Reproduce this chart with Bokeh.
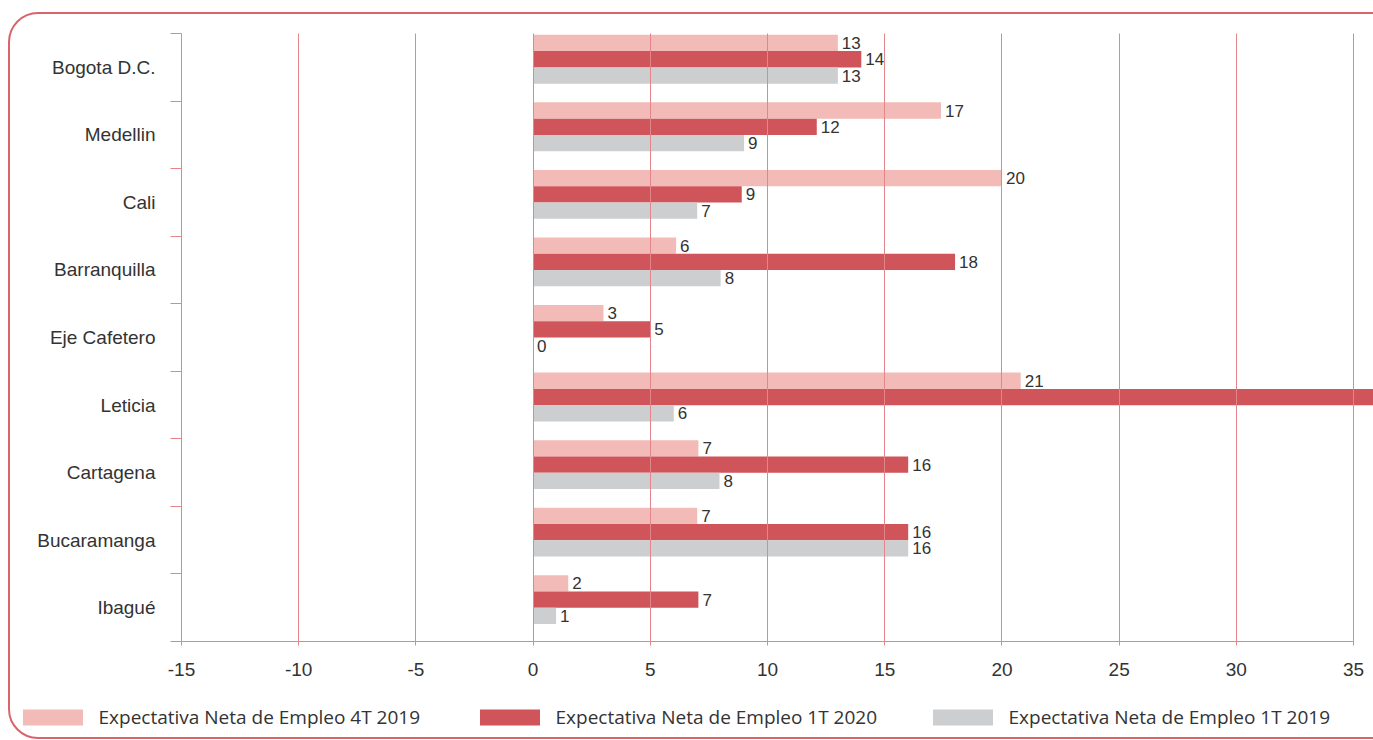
from bokeh.plotting import figure
from bokeh.layouts import column
from bokeh.models import (ColumnDataSource, Range1d, FixedTicker, Legend, LegendItem,
                          InlineStyleSheet)
from bokeh.core.properties import value
from bokeh.embed import file_html
from bokeh.resources import INLINE

# ---- data ----
cities = ["Bogota D.C.", "Medellin", "Cali", "Barranquilla", "Eje Cafetero",
          "Leticia", "Cartagena", "Bucaramanga", "Ibagué"]
series_names = ["Expectativa Neta de Empleo 4T 2019",
                "Expectativa Neta de Empleo 1T 2020",
                "Expectativa Neta de Empleo 1T 2019"]
v_4t2019 = [13.0, 17.4, 20.0, 6.1, 3.0, 20.8, 7.05, 7.0, 1.5]
v_1t2020 = [14.0, 12.1, 8.9, 18.0, 5.0, 38.0, 16.0, 16.0, 7.05]
v_1t2019 = [13.0, 9.0, 7.0, 8.0, 0.0, 6.0, 7.95, 16.0, 0.98]
lab_4t2019 = ["13", "17", "20", "6", "3", "21", "7", "7", "2"]
lab_1t2020 = ["14", "12", "9", "18", "5", "", "16", "16", "7"]  # Leticia label lies off-chart
lab_1t2019 = ["13", "9", "7", "8", "0", "6", "8", "16", "1"]
x_ticks = [-15, -10, -5, 0, 5, 10, 15, 20, 25, 30, 35]

colors = ["#f3bbb7", "#d0555b", "#cdcecf"]
grid_col = "#e3858b"
text_col = "#333333"
label_font = "Liberation Sans"

W = 1373
p = figure(width=W, height=700, output_backend="svg", toolbar_location=None,
           x_range=Range1d(-15, 35.85), y_range=Range1d(9, 0),
           min_border_left=181, min_border_right=0, min_border_top=33,
           min_border_bottom=59)
p.frame_align = False
p.outline_line_color = None
p.background_fill_color = "white"
p.border_fill_color = "white"

bar_h = 0.241
offsets = [0.14, 0.381, 0.622]
all_vals = [v_4t2019, v_1t2020, v_1t2019]
all_labs = [lab_4t2019, lab_1t2020, lab_1t2019]

sources = []
for k in range(3):
    ys = [i + offsets[k] for i in range(len(cities))]
    src = ColumnDataSource(dict(y=ys, right=all_vals[k], lab=all_labs[k]))
    sources.append(src)
    p.hbar(y="y", left=0, right="right", height=bar_h, source=src,
           fill_color=colors[k], line_color=None)
    p.text(x="right", y="y", text="lab", source=src, x_offset=4,
           text_baseline="middle", text_align="left", text_font_size="17px",
           text_font=value(label_font), text_color=text_col)

# grid
p.ygrid.visible = False
p.xgrid.ticker = FixedTicker(ticks=x_ticks)
p.xgrid.grid_line_color = grid_col
p.xgrid.grid_line_width = 1
p.xgrid.level = "overlay"

# x axis
p.xaxis.ticker = FixedTicker(ticks=x_ticks)
p.xaxis.major_label_overrides = {t: str(t) for t in x_ticks}
p.xaxis.bounds = (-15, 35)
p.xaxis.axis_line_color = grid_col
p.xaxis.major_tick_line_color = grid_col
p.xaxis.major_tick_out = 4
p.xaxis.major_tick_in = 0
p.xaxis.minor_tick_line_color = None
p.xaxis.major_label_standoff = 17
p.xaxis.major_label_text_font = label_font
p.xaxis.major_label_text_font_size = "19px"
p.xaxis.major_label_text_color = text_col

# y axis
centers = [i + 0.5 for i in range(len(cities))]
p.yaxis.ticker = FixedTicker(ticks=centers, minor_ticks=list(range(len(cities) + 1)))
p.yaxis.major_label_overrides = {c: n for c, n in zip(centers, cities)}
p.yaxis.axis_line_color = grid_col
p.yaxis.major_tick_line_color = None
p.yaxis.major_tick_out = 0
p.yaxis.major_tick_in = 0
p.yaxis.minor_tick_line_color = grid_col
p.yaxis.minor_tick_out = 11
p.yaxis.minor_tick_in = 0
p.yaxis.major_label_standoff = 15
p.yaxis.major_label_text_font = label_font
p.yaxis.major_label_text_font_size = "19px"
p.yaxis.major_label_text_color = text_col

# legend strip (its bars share the series sources but lie outside its view)
p2 = figure(width=W, height=40, output_backend="svg", toolbar_location=None,
            x_axis_type=None, y_axis_type=None, x_range=Range1d(0, 1),
            y_range=Range1d(100, 101), min_border=0)
p2.frame_align = False
p2.outline_line_color = None
p2.xgrid.visible = False
p2.ygrid.visible = False
leg_x = [14.5, 471.5, 924.5]
for k in range(3):
    r = p2.hbar(y="y", left=0, right="right", height=bar_h, source=sources[k],
                fill_color=colors[k], line_color=None)
    lg = Legend(items=[LegendItem(label=series_names[k], renderers=[r])],
                location=(leg_x[k], 10), orientation="horizontal",
                glyph_width=75, glyph_height=20, label_standoff=9,
                padding=0, margin=0, border_line_color=None,
                background_fill_alpha=0, label_text_font="Open Sans",
                label_text_font_size="19px", label_text_color=text_col)
    p2.add_layout(lg, "center")

layout = column(p, p2, spacing=0)

# rounded border frame (CSS overlay)
css = InlineStyleSheet(css="""
:host { position: relative; overflow: hidden; }
:host::after { content: ""; position: absolute; left: 8px; top: 12px;
  width: 1400px; height: 727px; border: 2px solid #d9646b; border-radius: 30px;
  box-sizing: border-box; pointer-events: none; }
""")
layout.stylesheets = [css]

open("out.html", "w").write(file_html(layout, INLINE))
